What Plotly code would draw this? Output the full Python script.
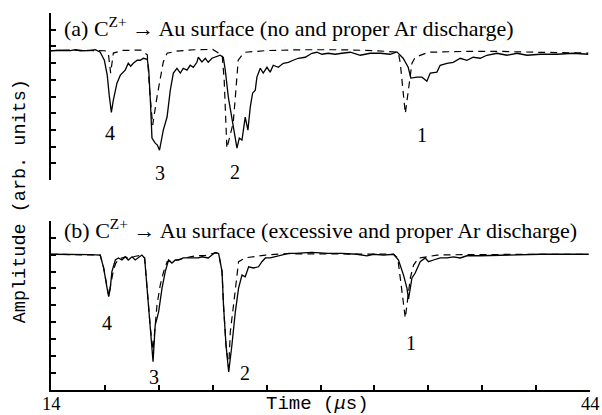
import plotly.graph_objects as go

# ---------------- data (time in microseconds, amplitude in arb. units 0-10) -------------
t_a_solid = [14.0, 14.52, 15.07, 15.35, 15.63, 16.08, 16.47, 16.74, 16.97, 17.13, 17.24, 17.36, 17.47,
             17.67, 17.86, 18.13, 18.30, 18.44, 18.58, 18.80, 18.97, 19.14, 19.36, 19.44, 19.53, 19.62,
             19.80, 19.92, 20.04, 20.14, 20.25, 20.46, 20.64, 20.81, 21.01, 21.20, 21.36, 21.57, 21.75,
             21.92, 22.12, 22.20, 22.40, 22.59, 22.75, 22.96, 23.14, 23.42, 23.59, 23.70, 23.87, 24.07,
             24.20, 24.35, 24.48, 24.63, 24.81, 24.96, 25.09, 25.22, 25.37, 25.46, 25.65, 25.81, 26.02,
             26.20, 26.37, 26.65, 26.93, 27.21, 27.48, 27.76, 28.15, 28.52, 28.80, 29.08, 29.43, 29.82,
             30.19, 30.66, 31.21, 31.77, 32.33, 32.88, 33.25, 33.60, 33.88, 34.03, 34.37, 34.65, 34.92,
             35.11, 35.48, 35.66, 36.04, 36.39, 36.78, 37.15, 37.50, 37.89, 38.26, 38.82, 39.38, 39.93,
             40.49, 41.23, 42.16, 43.07, 43.90]
amp_a_solid = [7.73, 7.77, 7.75, 7.80, 7.74, 7.75, 7.81, 7.65, 7.17, 6.28, 5.08, 4.05, 4.78,
               5.80, 6.28, 6.58, 6.99, 6.81, 6.99, 7.17, 7.17, 7.29, 7.23, 6.58, 4.78, 2.51,
               2.21, 2.09, 1.79, 2.27, 2.99, 3.77, 5.38, 6.40, 6.69, 6.40, 6.69, 6.58, 6.87,
               6.75, 7.05, 7.35, 7.07, 7.29, 7.05, 7.29, 7.35, 7.47, 7.35, 6.58, 4.96, 3.77,
               2.81, 1.91, 2.51, 2.39, 3.77, 2.99, 4.36, 5.20, 5.38, 6.16, 6.69, 6.40, 6.75,
               6.46, 6.87, 6.75, 6.99, 7.05, 7.17, 7.29, 7.35, 7.59, 7.65, 7.53, 7.59, 7.53,
               7.59, 7.65, 7.47, 7.59, 7.59, 7.53, 7.67, 7.29, 6.75, 6.10, 6.16, 6.16, 5.92,
               6.40, 6.46, 6.87, 6.99, 7.05, 7.29, 7.17, 7.35, 7.29, 7.47, 7.59, 7.47, 7.59,
               7.47, 7.53, 7.53, 7.59, 7.53]

t_a_dashed = [14.0, 15.0, 16.0, 17.0, 17.19, 17.32, 17.47, 18.0, 19.0, 19.36, 19.50, 19.66, 19.90,
              20.08, 20.25, 20.46, 21.0, 22.0, 23.0, 23.53, 23.64, 23.79, 24.14, 24.26, 24.35, 24.42,
              24.63, 24.81, 26.0, 28.0, 30.0, 32.0, 33.33, 33.44, 33.72, 33.90, 34.09, 34.27, 35.0,
              37.0, 39.0, 41.0, 43.9]
amp_a_dashed = [7.75, 7.78, 7.76, 7.74, 7.60, 6.40, 7.60, 7.76, 7.78, 7.50, 5.20, 3.29, 4.98,
                6.17, 7.07, 7.59, 7.72, 7.80, 7.82, 7.47, 5.98, 1.91, 3.41, 4.96, 6.40, 7.17,
                7.47, 7.65, 7.75, 7.80, 7.80, 7.75, 7.65, 7.00, 3.99, 5.38, 6.99, 7.35, 7.65,
                7.70, 7.70, 7.65, 7.60]

t_b_solid = [14.0, 15.35, 16.19, 16.74, 16.93, 17.12, 17.21, 17.30, 17.39, 17.58, 17.75, 17.95, 18.14,
             18.30, 18.51, 18.69, 18.86, 19.06, 19.21, 19.34, 19.53, 19.68, 19.80, 19.99, 20.18, 20.36,
             20.54, 20.73, 20.92, 21.10, 21.36, 21.75, 22.20, 22.40, 22.75, 23.14, 23.33, 23.52, 23.60,
             23.74, 23.89, 24.07, 24.26, 24.44, 24.63, 24.81, 25.00, 25.27, 25.55, 25.74, 25.93, 26.20,
             26.48, 26.85, 27.22, 27.60, 28.52, 29.43, 30.19, 31.03, 31.58, 31.95, 32.51, 33.07, 33.34,
             33.62, 33.81, 33.90, 34.00, 34.09, 34.27, 34.40, 34.55, 34.83, 35.01, 35.29, 35.66, 36.04,
             36.40, 36.78, 37.15, 37.89, 39.38, 41.23, 43.92]
amp_b_solid = [8.02, 8.03, 8.00, 7.97, 7.21, 6.02, 5.51, 6.02, 6.99, 7.68, 7.80, 7.68, 7.87,
               7.68, 7.87, 7.68, 7.80, 7.97, 7.80, 6.20, 3.66, 1.67, 3.84, 4.62, 6.02, 6.99,
               7.68, 7.50, 7.68, 7.68, 7.80, 7.80, 7.81, 7.87, 7.80, 8.13, 8.07, 6.99, 5.02,
               2.66, 1.06, 2.66, 4.62, 6.02, 6.79, 6.69, 7.28, 7.21, 7.28, 7.58, 7.80, 7.80,
               7.87, 7.97, 8.07, 8.07, 8.13, 8.07, 8.07, 8.02, 7.92, 8.02, 7.97, 8.02, 7.68,
               6.79, 6.02, 5.38, 6.20, 6.62, 6.91, 7.28, 7.58, 7.80, 7.58, 7.68, 7.80, 7.81,
               7.87, 7.80, 7.93, 7.93, 7.97, 8.02, 8.02]

t_b_dashed = [14.0, 16.74, 16.93, 17.12, 17.22, 17.30, 17.40, 17.48, 17.60, 17.80, 18.10, 18.40, 18.70,
              19.00, 19.21, 19.34, 19.53, 19.68, 19.78, 19.90, 20.08, 20.27, 20.46, 21.01, 21.75, 22.12,
              22.60, 23.14, 23.33, 23.52, 23.60, 23.74, 23.89, 23.98, 24.16, 24.35, 24.44, 24.81, 25.19,
              25.93, 27.0, 30.0, 33.07, 33.30, 33.44, 33.62, 33.72, 33.81, 34.00, 34.18, 34.46, 34.92,
              35.48, 37.0, 40.0, 43.92]
amp_b_dashed = [8.02, 7.97, 7.21, 6.02, 5.55, 6.10, 6.69, 7.10, 7.48, 7.75, 7.85, 7.80, 7.90,
                7.95, 7.80, 6.20, 3.66, 2.36, 3.74, 5.02, 6.20, 6.99, 7.58, 7.68, 7.87, 7.93,
                7.95, 8.10, 8.07, 6.99, 5.02, 2.66, 1.30, 3.44, 5.02, 6.79, 7.58, 7.81, 7.87,
                7.97, 8.05, 8.05, 8.02, 7.80, 6.62, 4.84, 4.25, 5.02, 6.62, 7.38, 7.80, 7.87,
                7.97, 8.00, 8.02, 8.02]

peak_labels = ["4", "3", "2", "1"]
peak_t_a = [17.30, 20.04, 24.26, 34.65]
peak_amp_a = [2.81, 0.42, 0.48, 2.69]
peak_t_b = [17.12, 19.75, 24.81, 34.03]
peak_amp_b = [3.94, 0.79, 0.98, 2.76]

x_tickvals = [14, 17, 20, 23, 26, 29, 32, 35, 38, 41, 44]
x_labelvals = [14, 44]
x_labeltext = ["14", "44"]

title_a = "(a) C<sup>Z+</sup> \u2192 Au surface (no and proper Ar discharge)"
title_b = "(b) C<sup>Z+</sup> \u2192 Au surface (excessive and proper Ar discharge)"
title_pos_t = 14.63
title_amp_a = 9.19
title_amp_b = 9.52

# ---------------- figure ----------------
SERIF = "Liberation Serif"
MONO = "Liberation Mono"

fig = go.Figure()
fig.add_trace(go.Scatter(x=t_a_solid, y=amp_a_solid, xaxis="x2", yaxis="y2", mode="lines",
                         line=dict(color="black", width=1.3), hoverinfo="skip"))
fig.add_trace(go.Scatter(x=t_a_dashed, y=amp_a_dashed, xaxis="x2", yaxis="y2", mode="lines",
                         line=dict(color="black", width=1.2, dash="7px,5px"), hoverinfo="skip"))
fig.add_trace(go.Scatter(x=t_b_solid, y=amp_b_solid, xaxis="x", yaxis="y", mode="lines",
                         line=dict(color="black", width=1.3), hoverinfo="skip"))
fig.add_trace(go.Scatter(x=t_b_dashed, y=amp_b_dashed, xaxis="x", yaxis="y", mode="lines",
                         line=dict(color="black", width=1.2, dash="7px,5px"), hoverinfo="skip"))

annotations = []
for lab, tx, ay in zip(peak_labels, peak_t_a, peak_amp_a):
    annotations.append(dict(x=tx, y=ay, xref="x2", yref="y2", text=lab, showarrow=False,
                            font=dict(family=SERIF, size=20, color="black")))
for lab, tx, ay in zip(peak_labels, peak_t_b, peak_amp_b):
    annotations.append(dict(x=tx, y=ay, xref="x", yref="y", text=lab, showarrow=False,
                            font=dict(family=SERIF, size=20, color="black")))
annotations.append(dict(x=title_pos_t, y=title_amp_a, xref="x2", yref="y2", text=title_a,
                        showarrow=False, xanchor="left", yanchor="middle",
                        font=dict(family=SERIF, size=22, color="black")))
annotations.append(dict(x=title_pos_t, y=title_amp_b, xref="x", yref="y", text=title_b,
                        showarrow=False, xanchor="left", yanchor="middle",
                        font=dict(family=SERIF, size=22, color="black")))
annotations.append(dict(x=-0.056, y=0.5, xref="paper", yref="paper", text="Amplitude (arb. units)",
                        textangle=-90, showarrow=False, xanchor="center", yanchor="middle",
                        font=dict(family=MONO, size=18.5, color="black")))
annotations.append(dict(x=0.495, y=-0.037, xref="paper", yref="paper", text="Time (<i>\u03bc</i>s)",
                        showarrow=False, xanchor="center", yanchor="middle",
                        font=dict(family=MONO, size=19, color="black")))
# tick labels of the time axis (only the end values are labelled)
for tv, tt in zip(x_labelvals, x_labeltext):
    annotations.append(dict(x=tv, y=-25 / 377, xref="x", yref="paper", text=tt, showarrow=False,
                            xanchor="center", yanchor="bottom", borderpad=0,
                            font=dict(family=SERIF, size=18.5, color="black")))

yaxis_common = dict(range=[0, 10], tick0=0, dtick=1, ticks="inside", ticklen=5, tickwidth=1.5,
                    tickcolor="black", showticklabels=False, showline=True, linecolor="black",
                    linewidth=2, showgrid=False, zeroline=False, fixedrange=True, automargin=False)

fig.update_layout(
    width=602, height=415,
    margin=dict(l=51, r=12, t=13, b=25, pad=0, autoexpand=False),
    paper_bgcolor="white", plot_bgcolor="white",
    showlegend=False,
    xaxis=dict(domain=[0, 1], anchor="y", range=[14, 44], tickvals=x_tickvals, showticklabels=False,
               ticks="inside", ticklen=5, tickwidth=1.5, tickcolor="black", showline=True,
               linecolor="black", linewidth=2, showgrid=False, zeroline=False, automargin=False,
               fixedrange=True),
    xaxis2=dict(domain=[0, 1], anchor="y2", range=[14, 44], visible=False, automargin=False,
                fixedrange=True),
    yaxis=dict(domain=[0, 0.449], anchor="x", **yaxis_common),
    yaxis2=dict(domain=[0.557, 1], anchor="x2", **yaxis_common),
    annotations=annotations,
)

fig.write_html(
    "out.html",
    config={"displayModeBar": False},
    post_script="document.documentElement.style.margin='0';document.body.style.margin='0';"
                "document.body.style.padding='0';document.body.style.overflow='hidden';",
)
